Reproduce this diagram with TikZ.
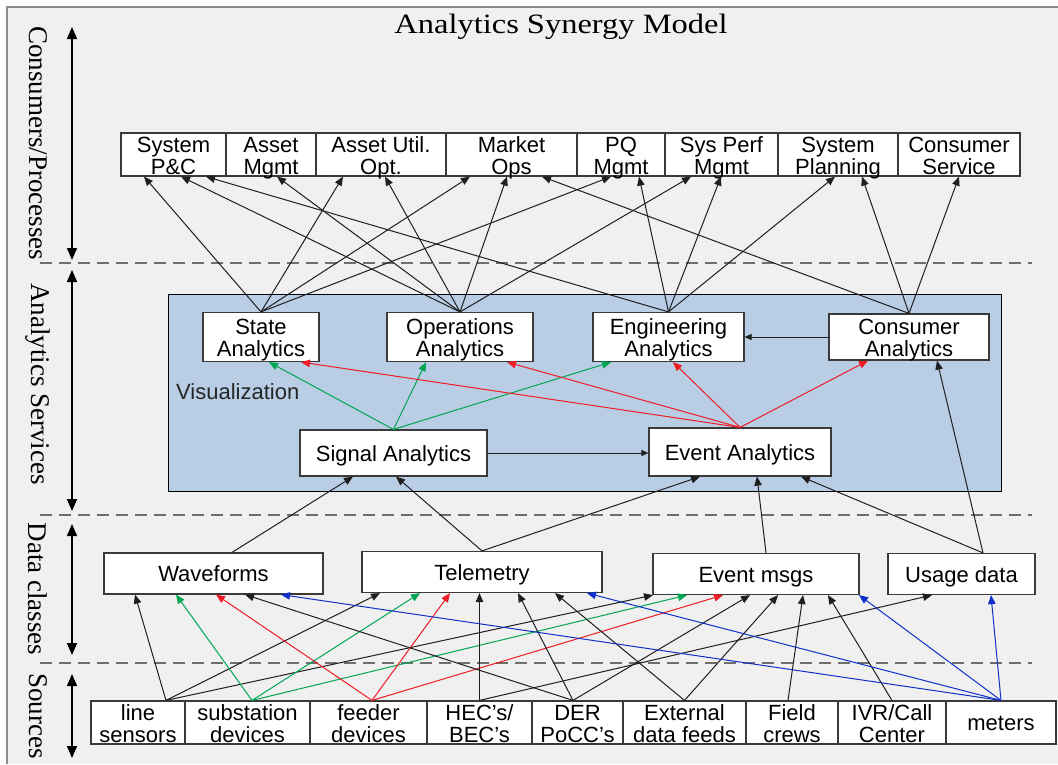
\documentclass[tikz,border=0pt]{standalone}
\usepackage{fontspec}
\setmainfont{Liberation Serif}
\setsansfont{Liberation Sans}
\newfontfamily\titlefont[FakeStretch=1.16]{Liberation Serif}
\usetikzlibrary{arrows.meta}
\definecolor{bgc}{HTML}{F0F0F0}
\definecolor{panelc}{HTML}{B9CDE5}
\definecolor{gline}{HTML}{00A651}
\definecolor{rline}{HTML}{EE1C25}
\definecolor{bline}{HTML}{1030C8}
\definecolor{dashc}{HTML}{6E6E6E}
\definecolor{framec}{HTML}{8C8C8C}
\definecolor{boxc}{HTML}{3A3A3A}
\begin{document}
\begin{tikzpicture}[x=1pt,y=-1pt,
  box/.style={draw=boxc, line width=1.2pt, fill=white, inner sep=0pt, align=center,
    font=\sffamily\fontsize{22}{22}\selectfont},
  two/.style={text height=41pt, text depth=2pt},
  one/.style={text height=20pt, text depth=4pt},
  conn/.style={line width=1pt, -{Triangle[length=9pt,width=7.5pt]}},
  kconn/.style={conn, draw=black!88},
  gconn/.style={conn, draw=gline},
  rconn/.style={conn, draw=rline},
  bconn/.style={conn, draw=bline},
  sconn/.style={line width=1pt, draw=black!88, -{Triangle[length=7pt,width=6pt]}},
  dbl/.style={line width=1.5pt, {Triangle[length=12pt,width=10pt]}-{Triangle[length=12pt,width=10pt]}},
  sep/.style={line width=1.5pt, draw=dashc, dash pattern=on 12pt off 7pt},
  side/.style={rotate=-90, inner sep=0pt, font=\fontsize{27}{27}\selectfont}
]
\useasboundingbox (0,0) rectangle (1058,764);
\fill[white] (0,0) rectangle (1058,764);
\fill[bgc] (7,7) rectangle (1058,764);
\draw[framec, line width=1.8pt] (7,764) -- (7,7) -- (1058,7);

% title
\node[anchor=base, inner sep=0pt, font=\titlefont\fontsize{28}{28}\selectfont] (title) at (561,33) {Analytics Synergy Model};

% side labels
\node[side] (l1) at (38,143) {Consumers/Processes};
\node[side] (l2) at (38,384) {Analytics Services};
\node[side] (l3) at (38,589) {Data classes};
\node[side] (l4) at (38,716) {Sources};

\coordinate (v1a) at (72,27);  \coordinate (v1b) at (72,260);
\coordinate (v2a) at (72,270); \coordinate (v2b) at (72,511);
\coordinate (v3a) at (72,524); \coordinate (v3b) at (72,655);
\coordinate (v4a) at (72,674); \coordinate (v4b) at (72,758);
\draw[dbl] (v1a) -- (v1b);
\draw[dbl] (v2a) -- (v2b);
\draw[dbl] (v3a) -- (v3b);
\draw[dbl] (v4a) -- (v4b);

% separators
\coordinate (h1a) at (40,263); \coordinate (h1b) at (1032,263);
\coordinate (h2a) at (40,515); \coordinate (h2b) at (1032,515);
\coordinate (h3a) at (40,663); \coordinate (h3b) at (1032,663);
\draw[sep] (h1a) -- (h1b);
\draw[sep] (h2a) -- (h2b);
\draw[sep] (h3a) -- (h3b);

% consumers / processes
\node[box, two, minimum width=105, minimum height=43] (c1) at (173.5,154.5) {System\\P\&C};
\node[box, two, minimum width=90,  minimum height=43] (c2) at (271,154.5) {Asset\\Mgmt};
\node[box, two, minimum width=130, minimum height=43] (c3) at (381,154.5) {Asset Util.\\Opt.};
\node[box, two, minimum width=131, minimum height=43] (c4) at (511.5,154.5) {Market\\Ops};
\node[box, two, minimum width=88,  minimum height=43] (c5) at (621,154.5) {PQ\\Mgmt};
\node[box, two, minimum width=113, minimum height=43] (c6) at (721.5,154.5) {Sys Perf\\Mgmt};
\node[box, two, minimum width=120, minimum height=43] (c7) at (838,154.5) {System\\Planning};
\node[box, two, minimum width=122, minimum height=43] (c8) at (959,154.5) {Consumer\\Service};

% analytics panel
\node[draw=black, line width=1pt, fill=panelc, inner sep=0pt, minimum width=833, minimum height=197] (panel) at (584.5,392.5) {};

\node[box, two, minimum width=116, minimum height=49] (a1) at (261,337) {State\\Analytics};
\node[box, two, minimum width=146, minimum height=49] (a2) at (460,337) {Operations\\Analytics};
\node[box, two, minimum width=151, minimum height=49] (a3) at (668.5,337) {Engineering\\Analytics};
\node[box, two, minimum width=160, minimum height=46] (a4) at (909,337) {Consumer\\Analytics};
\node[box, one, minimum width=187, minimum height=46] (s1) at (393.5,453) {Signal Analytics};
\node[box, one, minimum width=182, minimum height=48] (s2) at (740,452) {Event Analytics};
\node[one, anchor=west, inner sep=0pt, text=black!85, font=\sffamily\fontsize{22}{22}\selectfont] (vis) at (176,391) {Visualization};

% data classes
\node[box, one, minimum width=219, minimum height=41] (d1) at (213.5,573.5) {Waveforms};
\node[box, one, minimum width=240, minimum height=41] (d2) at (482,572) {Telemetry};
\node[box, one, minimum width=206, minimum height=41] (d3) at (756,574) {Event msgs};
\node[box, one, minimum width=147, minimum height=41] (d4) at (961.5,574) {Usage data};

% sources
\node[box, two, minimum width=94,  minimum height=43] (p1) at (138,722.5) {line\\sensors};
\node[box, two, minimum width=125, minimum height=43] (p2) at (247.5,722.5) {substation\\devices};
\node[box, two, minimum width=117, minimum height=43] (p3) at (368.5,722.5) {feeder\\devices};
\node[box, two, minimum width=105, minimum height=43] (p4) at (479.5,722.5) {HEC's/\\BEC's};
\node[box, two, minimum width=91,  minimum height=43] (p5) at (577.5,722.5) {DER\\PoCC's};
\node[box, two, minimum width=123, minimum height=43] (p6) at (684.5,722.5) {External\\data feeds};
\node[box, two, minimum width=92,  minimum height=43] (p7) at (792,722.5) {Field\\crews};
\node[box, two, minimum width=108, minimum height=43] (p8) at (892,722.5) {IVR/Call\\Center};
\node[box, one, minimum width=110, minimum height=43] (p9) at (1001,722.5) {meters};

% analytics -> consumers
\draw[kconn] (a1.north) -- ([xshift=-29.5]c1.south);
\draw[kconn] (a1.north) -- ([xshift=-38]c3.south);
\draw[kconn] (a1.north) -- ([xshift=-41.5]c4.south);
\draw[kconn] (a1.north) -- ([xshift=-10]c5.south);
\draw[kconn] (a2.north) -- ([xshift=7.5]c1.south);
\draw[kconn] (a2.north) -- ([xshift=6]c2.south);
\draw[kconn] (a2.north) -- ([xshift=4]c3.south);
\draw[kconn] (a2.north) -- ([xshift=-4.5]c4.south);
\draw[kconn] (a2.north) -- ([xshift=-30.5]c6.south);
\draw[kconn] (a3.north) -- ([xshift=32.5]c1.south);
\draw[kconn] (a3.north) -- ([xshift=18]c5.south);
\draw[kconn] (a3.north) -- ([xshift=-0.5]c6.south);
\draw[kconn] (a3.north) -- ([xshift=-3]c7.south);
\draw[kconn] (a4.north) -- ([xshift=30.5]c4.south);
\draw[kconn] (a4.north) -- ([xshift=24]c7.south);
\draw[kconn] (a4.north) -- (c8.south);

% inside analytics
\draw[gconn] (s1.north) -- ([xshift=8]a1.south);
\draw[gconn] (s1.north) -- ([xshift=-34]a2.south);
\draw[gconn] (s1.north) -- ([xshift=-57.5]a3.south);
\draw[rconn] (s2.north) -- ([xshift=40]a1.south);
\draw[rconn] (s2.north) -- ([xshift=47]a2.south);
\draw[rconn] (s2.north) -- ([xshift=4.5]a3.south);
\draw[rconn] (s2.north) -- ([xshift=-41]a4.south);
\draw[sconn] (s1.east) -- (s1.east -| s2.west);
\draw[sconn] (a4.west) -- (a4.west -| a3.east);

% data classes -> analytics
\draw[kconn] ([xshift=18.5]d1.north) -- ([xshift=-40.5]s1.south);
\draw[kconn] (d2.north) -- ([xshift=2.5]s1.south);
\draw[kconn] (d2.north) -- ([xshift=-40]s2.south);
\draw[kconn] ([xshift=10]d3.north) -- ([xshift=17]s2.south);
\draw[kconn] ([xshift=21.5]d4.north) -- ([xshift=61]s2.south);
\draw[kconn] ([xshift=21.5]d4.north) -- ([xshift=28]a4.south);

% sources -> data classes
\draw[kconn] ([xshift=28]p1.north) -- ([xshift=-78.5]d1.south);
\draw[kconn] ([xshift=28]p1.north) -- ([xshift=-102]d2.south);
\draw[kconn] ([xshift=28]p1.north) -- ([xshift=-103]d3.south);
\draw[gconn] ([xshift=4.5]p2.north) -- ([xshift=-37.5]d1.south);
\draw[gconn] ([xshift=4.5]p2.north) -- ([xshift=-62]d2.south);
\draw[gconn] ([xshift=4.5]p2.north) -- ([xshift=-69]d3.south);
\draw[rconn] ([xshift=3.5]p3.north) -- ([xshift=2.5]d1.south);
\draw[rconn] ([xshift=3.5]p3.north) -- ([xshift=-32]d2.south);
\draw[rconn] ([xshift=3.5]p3.north) -- ([xshift=-33]d3.south);
\draw[kconn] (p4.north) -- (p4.north |- d2.south);
\draw[kconn] (p4.north) -- ([xshift=-29.5]d4.south);
\draw[kconn] ([xshift=-4.5]p5.north) -- ([xshift=31.5]d1.south);
\draw[kconn] ([xshift=-4.5]p5.north) -- ([xshift=36]d2.south);
\draw[kconn] ([xshift=-4.5]p5.north) -- ([xshift=-6]d3.south);
\draw[kconn] (p6.north) -- ([xshift=73]d2.south);
\draw[kconn] (p6.north) -- ([xshift=22]d3.south);
\draw[kconn] ([xshift=-4]p7.north) -- ([xshift=47]d3.south);
\draw[kconn] (p8.north) -- ([xshift=72]d3.south);
\draw[bconn] (p9.north) -- ([xshift=67.5]d1.south);
\draw[bconn] (p9.north) -- ([xshift=105]d2.south);
\draw[bconn] (p9.north) -- ([xshift=103]d3.south);
\draw[bconn] (p9.north) -- ([xshift=29.5]d4.south);
\end{tikzpicture}
\end{document}
